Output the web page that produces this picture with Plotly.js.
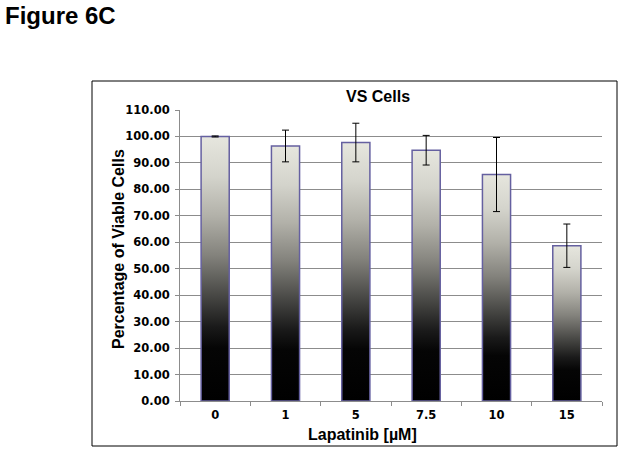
<!DOCTYPE html>
<html>
<head>
<meta charset="utf-8">
<script src="https://cdn.plot.ly/plotly-3.0.1.min.js"></script>
<style>
  body { margin: 0; background: #fff; }
  #plot { width: 626px; height: 452px; }
</style>
</head>
<body>
<div id="plot"></div>
<script>
var doses = ["0", "1", "5", "7.5", "10", "15"];
var viable = [100.0, 96.4, 97.7, 94.8, 85.6, 58.7];
var errs = [0.2, 6.0, 7.3, 5.6, 14.0, 8.2];

var pltData = document.getElementById('plot');

// plot area in pixels: x 180..602, y 110..401
var W = 626, H = 452;
var mL = 180, mR = 24, mT = 110, mB = 51;
function px(x) { return (x - mL) / (W - mL - mR); }
function py(y) { return (H - mB - y) / (H - mT - mB); }

var boldFont = 'Liberation Sans, Arial, sans-serif';
var tickFont = 'DejaVu Sans, sans-serif';

var data = [{
  x: doses,
  y: viable,
  type: 'bar',
  marker: {
    color: '#888884',
    line: { color: '#6560a0', width: 1.5 }
  },
  error_y: {
    type: 'data',
    array: errs,
    visible: true,
    color: '#000',
    thickness: 1,
    width: 3.5
  },
  hoverinfo: 'none'
}];

var layout = {
  width: W,
  height: H,
  margin: { l: mL, r: mR, t: mT, b: mB },
  paper_bgcolor: '#fff',
  plot_bgcolor: '#fff',
  showlegend: false,
  bargap: 0.6,
  font: { family: boldFont, color: '#000' },
  xaxis: {
    type: 'category',
    showline: true,
    linecolor: '#8c8c8c',
    linewidth: 1,
    ticks: 'outside',
    tickson: 'boundaries',
    ticklen: 4,
    tickcolor: '#8c8c8c',
    showgrid: false,
    ticklabelstandoff: 3,
    tickfont: { size: 11.5, family: tickFont, weight: 'bold' }
  },
  yaxis: {
    range: [0, 110],
    dtick: 10,
    tickformat: '.2f',
    showline: true,
    linecolor: '#8c8c8c',
    linewidth: 1,
    ticks: 'outside',
    ticklen: 4,
    tickcolor: '#8c8c8c',
    showgrid: true,
    gridcolor: '#8c8c8c',
    gridwidth: 1,
    zeroline: false,
    ticklabelstandoff: 3,
    tickfont: { size: 11.5, family: tickFont, weight: 'bold' }
  },
  shapes: [{
    type: 'rect', xref: 'paper', yref: 'paper',
    x0: px(92), x1: px(617), y0: py(446), y1: py(81),
    line: { color: '#000', width: 1 },
    layer: 'below'
  }],
  annotations: [{
    text: 'Figure 6C', xref: 'paper', yref: 'paper',
    x: px(3), y: py(15), xanchor: 'left', yanchor: 'middle',
    showarrow: false,
    font: { size: 24, family: boldFont, weight: 'bold' }
  }, {
    text: 'VS Cells', xref: 'paper', yref: 'paper',
    x: px(378), y: py(97), xanchor: 'center', yanchor: 'middle',
    showarrow: false,
    font: { size: 16, family: boldFont, weight: 'bold' }
  }, {
    text: 'Lapatinib [µM]', xref: 'paper', yref: 'paper',
    x: px(362), y: py(434), xanchor: 'center', yanchor: 'middle',
    showarrow: false,
    font: { size: 16, family: boldFont, weight: 'bold' }
  }, {
    text: 'Percentage of Viable Cells', xref: 'paper', yref: 'paper',
    x: px(118), y: py(249), xanchor: 'center', yanchor: 'middle',
    textangle: -90,
    showarrow: false,
    font: { size: 16, family: boldFont, weight: 'bold' }
  }]
};

var config = { staticPlot: true };

Plotly.newPlot(pltData, data, layout, config).then(function() {
  // vertical gradient inside every bar, light at top, black at bottom
  var svg = pltData.querySelector('.main-svg');
  var ns = 'http://www.w3.org/2000/svg';
  var defs = svg.querySelector('defs');
  if (!defs) { defs = document.createElementNS(ns, 'defs'); svg.insertBefore(defs, svg.firstChild); }
  var grad = document.createElementNS(ns, 'linearGradient');
  grad.setAttribute('id', 'barGrad');
  grad.setAttribute('x1', '0'); grad.setAttribute('y1', '0');
  grad.setAttribute('x2', '0'); grad.setAttribute('y2', '1');
  var stops = [[0, '#e6e6de'], [0.15, '#d4d4cc'], [0.3, '#b2b1a9'], [0.45, '#83827c'],
               [0.6, '#484845'], [0.72, '#1a1a1a'], [0.8, '#050505'], [1, '#000000']];
  stops.forEach(function(s) {
    var st = document.createElementNS(ns, 'stop');
    st.setAttribute('offset', s[0]);
    st.setAttribute('stop-color', s[1]);
    grad.appendChild(st);
  });
  defs.appendChild(grad);
  var bars = pltData.querySelectorAll('.bars .point path');
  bars.forEach(function(p) { p.style.fill = 'url(#barGrad)'; });
});
</script>
</body>
</html>
